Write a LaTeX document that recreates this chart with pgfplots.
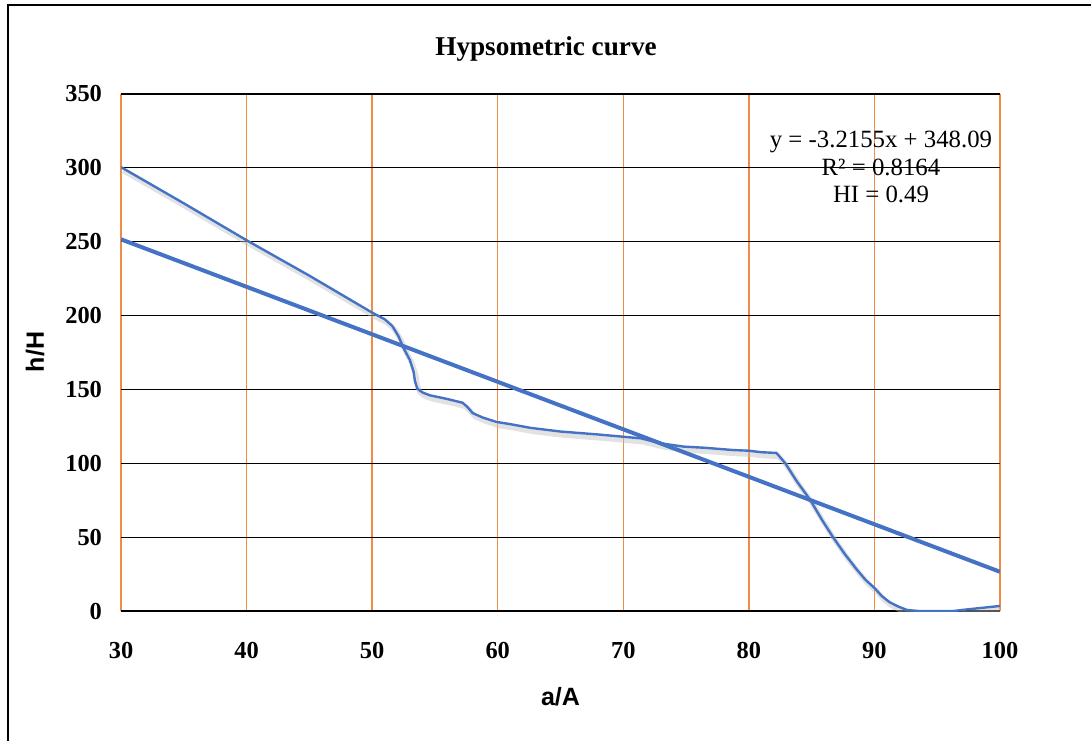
\documentclass[border=0pt]{standalone}
\usepackage{fontspec}
\setmainfont{Liberation Serif}
\newfontfamily\arialfont{Liberation Sans}
\usepackage{pgfplots}
\pgfplotsset{compat=1.18}
\definecolor{curveblue}{RGB}{68,114,196}
\definecolor{gridorange}{RGB}{240,140,70}
\begin{document}
\begin{tikzpicture}
\useasboundingbox (0,0) rectangle (545.5pt,370pt);
\draw[line width=1.3pt] (4pt,-10pt) -- (4pt,367.5pt) -- (560pt,367.5pt);
\begin{axis}[
  at={(60.5pt,64.5pt)}, anchor=south west,
  scale only axis, width=439.5pt, height=258.5pt,
  xmin=30, xmax=100, ymin=0, ymax=350,
  xtick={30,40,...,100}, ytick={0,50,...,350},
  grid=major,
  x grid style={gridorange, line width=0.65pt},
  y grid style={black, line width=0.6pt},
  axis line style={draw=none},
  major tick length=0pt,
  /pgf/number format/assume math mode=true,
  ticklabel style={font=\bfseries\fontsize{12.2}{14}\selectfont},
  yticklabel style={xshift=-6pt},
  xticklabel style={yshift=-12pt},
  title={\bfseries\fontsize{13.6}{16}\selectfont Hypsometric curve},
  title style={at={(axis description cs:0.4835,1.064)}, anchor=center},
  xlabel={\arialfont\bfseries\fontsize{12.5}{14}\selectfont a/A},
  xlabel style={at={(axis description cs:0.5,-0.166)}, anchor=center},
  ylabel={\arialfont\bfseries\fontsize{12.5}{14}\selectfont h/H},
  ylabel style={at={(axis description cs:-0.0978,0.501)}, anchor=center, rotate=0},
]
\pgfplotstableread{
x y
30 300.5
35 276
40 251
45 227
48 212
50 202
51 197.5
51.6 193
52.1 186
52.5 178
53.0 170
53.3 162
53.4 156
53.6 150.5
54.0 148
54.6 146
56 143.5
57.2 141
57.6 138
58.0 134
58.8 131
59.9 128
61 126.5
62.6 124
65 121.5
68 119.5
71.4 116.9
73 113.5
74.8 111.3
76.5 110.5
78.7 109
80 108.5
81 107.5
82.2 107
82.9 100
83.8 88
84.9 75
85.8 62
86.7 50
87.6 39
88.6 28
89.3 21
90 15.6
90.6 10
91.2 6
91.9 3
92.6 0.7
93.5 0
96.3 0
97.3 1
98.4 2
100 3.4
}\curvedata
\addplot[gray!50, opacity=0.45, line width=2.6pt, no markers, shift={(1.2pt,-1.8pt)}] table {\curvedata};
\addplot[curveblue, line width=1.2pt, no markers] table {\curvedata};
\addplot[curveblue, line width=2pt, no markers] coordinates {(30,251.625) (100,26.54)};
\node[align=center, font=\fontsize{12.4}{13.75}\selectfont] at (rel axis cs:0.8646,0.8588) {y = -3.2155x + 348.09\\R² = 0.8164\\HI = 0.49};
\end{axis}
\end{tikzpicture}
\end{document}
